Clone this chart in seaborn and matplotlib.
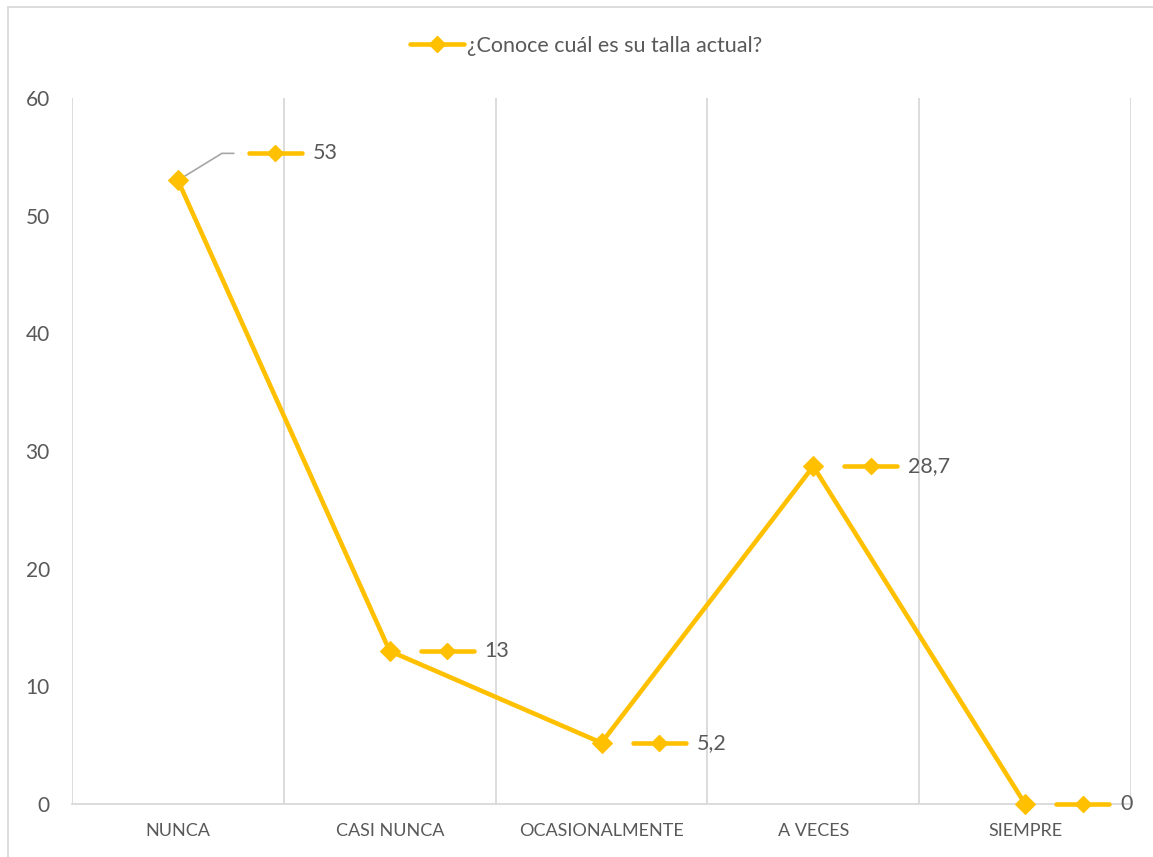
import numpy as np
import pandas as pd
import seaborn as sns
import matplotlib
matplotlib.use("Agg")
import matplotlib.pyplot as plt
from matplotlib.transforms import IdentityTransform
from matplotlib.patches import Rectangle
from matplotlib.lines import Line2D

categories = ["NUNCA", "CASI NUNCA", "OCASIONALMENTE", "A VECES", "SIEMPRE"]
values = [53, 13, 5.2, 28.7, 0]
value_labels = ["53", "13", "5,2", "28,7", "0"]
series_name = "¿Conoce cuál es su talla actual?"
y_ticks = [0, 10, 20, 30, 40, 50, 60]

# label placement (pixel offsets from the point): (dx, dy)
label_offsets = [(71, 27), (31, 0), (31, 0), (31, 0), (31, 0)]

sns.set_style("white")
plt.rcParams['font.family'] = ['Lato', 'DejaVu Sans']

GOLD = "#FFC000"
TXT = "#595959"
GRID = "#D9D9D9"

W, H = 1153, 857
fig = plt.figure(figsize=(W / 100, H / 100), dpi=100)
ax = fig.add_axes([72 / W, 1 - 804 / H, (1131 - 72) / W, (804 - 98) / H])

df = pd.DataFrame({"cat": categories, "val": values})
sns.lineplot(data=df, x="cat", y="val", ax=ax, color=GOLD, lw=3.3, marker="D",
             markersize=10, markeredgecolor=GOLD, label=series_name, sort=False,
             clip_on=False, zorder=5)
ax.get_legend().remove()

ax.set_xlim(-0.5, len(categories) - 0.5)
ax.set_ylim(0, 60)
ax.set_yticks(y_ticks)
ax.set_xticks(range(len(categories)))
ax.set_xticklabels(categories)
ax.set_xticks(np.arange(-0.5, len(categories), 1), minor=True)
ax.grid(False)
ax.grid(axis='x', which='minor', color=GRID, lw=1.3)
ax.set_xlabel("")
ax.set_ylabel("")
ax.tick_params(axis='both', which='both', length=0)
ax.tick_params(axis='y', pad=16, labelsize=15, labelcolor=TXT)
ax.tick_params(axis='x', pad=14, labelsize=13, labelcolor=TXT)
for s in ["left", "right", "top"]:
    ax.spines[s].set_visible(False)
ax.spines["bottom"].set_color(GRID)
ax.spines["bottom"].set_linewidth(1.3)

# data labels with legend key
ident = IdentityTransform()
for i, (v, lab, (dx, dy)) in enumerate(zip(values, value_labels, label_offsets)):
    px, py = ax.transData.transform((i, v))
    ly = py + dy
    lx = px + dx
    if dy != 0:
        ax.plot([px, px + 44, px + 56], [py, ly, ly], transform=ident, color="#A6A6A6",
                lw=1.2, clip_on=False, zorder=4)
    ax.plot([lx, lx + 53], [ly, ly], transform=ident, color=GOLD, lw=3.3,
            solid_capstyle='round', clip_on=False, zorder=6)
    ax.plot([lx + 26.5], [ly], transform=ident, color=GOLD, marker="D", markersize=8,
            clip_on=False, zorder=6)
    ax.text(lx + 64, ly, lab, transform=ident, fontsize=15.5, color=TXT,
            ha='left', va='center', zorder=6)

handle = Line2D([], [], color=GOLD, lw=3.3, marker="D", markersize=8,
                solid_capstyle='round')
fig.legend([handle], [series_name], loc='center', bbox_to_anchor=(586 / W, 1 - 46 / H),
           frameon=False, fontsize=15.5, handlelength=2.5, handletextpad=0.15,
           labelcolor=TXT, borderaxespad=0)

fig.patches.append(Rectangle((8 / W, -0.1), 1.2, 1 - 7 / H + 0.1, transform=fig.transFigure,
                             fill=False, edgecolor=GRID, lw=1.3))

fig.savefig("out.png", dpi=100)
